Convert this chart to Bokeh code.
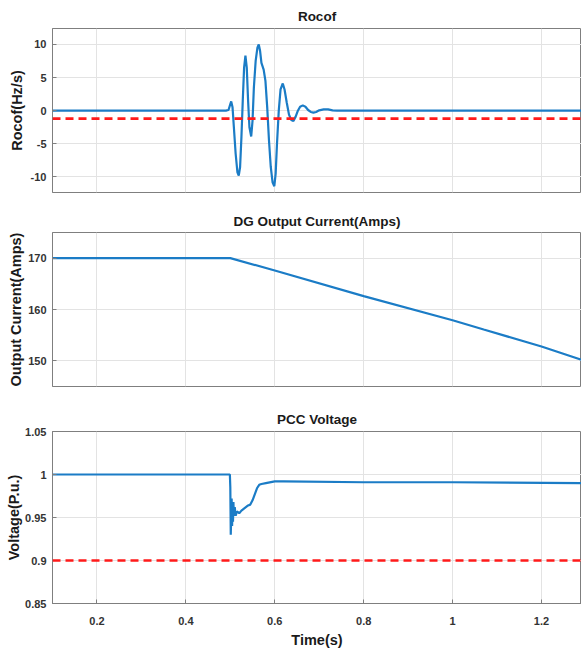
from bokeh.plotting import figure
from bokeh.layouts import column
from bokeh.models import FixedTicker, Range1d, Span, NumeralTickFormatter
from bokeh.embed import file_html
from bokeh.resources import INLINE

# ---------------- data ----------------
x_ticks = [0.2, 0.4, 0.6, 0.8, 1.0, 1.2]

t_rocof = [0.10, 0.30, 0.49, 0.496, 0.500, 0.502, 0.505, 0.508, 0.512, 0.516,
           0.519, 0.522, 0.525, 0.528, 0.531, 0.534, 0.537, 0.540, 0.543, 0.547,
           0.550, 0.553, 0.557, 0.561, 0.564, 0.567, 0.570, 0.575, 0.579, 0.583,
           0.587, 0.591, 0.595, 0.599, 0.602, 0.605, 0.609, 0.613, 0.618, 0.622,
           0.627, 0.632, 0.637, 0.642, 0.647, 0.652, 0.657, 0.663, 0.669, 0.675,
           0.681, 0.687, 0.693, 0.700, 0.710, 0.720, 0.730, 0.740, 1.00, 1.29]
rocof = [0.0, 0.0, 0.0, 0.1, 1.0, 1.4, 0.5, -2.5, -6.5, -9.3,
         -9.8, -8.5, -4.0, 1.5, 6.5, 8.3, 6.5, 1.5, -2.5, -3.9,
         -1.5, 3.5, 7.5, 9.5, 10.0, 9.0, 7.2, 6.2, 4.5, 0.5,
         -4.5, -8.5, -10.8, -11.4, -9.5, -5.0, 0.0, 3.2, 4.1, 3.2,
         1.2, -0.6, -1.4, -1.55, -0.9, 0.0, 0.6, 0.8, 0.6, 0.1,
         -0.2, -0.3, -0.2, 0.05, 0.2, 0.2, 0.05, 0.0, 0.0, 0.0]
rocof_threshold = -1.2
rocof_ticks = [-10, -5, 0, 5, 10]

t_current = [0.10, 0.50, 0.60, 0.80, 1.00, 1.07, 1.20, 1.29]
current = [170.0, 170.0, 167.6, 162.6, 157.9, 156.1, 152.8, 150.2]
current_ticks = [150, 160, 170]

t_voltage = [0.10, 0.499, 0.500, 0.501, 0.502, 0.503, 0.504, 0.505, 0.506, 0.507,
             0.508, 0.510, 0.512, 0.515, 0.520, 0.525, 0.530, 0.535, 0.540, 0.545,
             0.550, 0.555, 0.560, 0.565, 0.570, 0.580, 0.600, 0.620, 0.800, 1.000, 1.29]
voltage = [1.0, 1.0, 0.985, 0.93, 0.95, 0.972, 0.94, 0.965, 0.945, 0.968,
           0.952, 0.962, 0.952, 0.957, 0.955, 0.958, 0.960, 0.962, 0.964, 0.965,
           0.970, 0.977, 0.984, 0.988, 0.989, 0.990, 0.992, 0.992, 0.991, 0.991, 0.990]
voltage_threshold = 0.9
voltage_ticks = [0.85, 0.9, 0.95, 1.0, 1.05]

# ---------------- style ----------------
FONT = "Liberation Sans"
BLUE = "#1b7cc6"
RED = "#ff1a1a"
X0, X1 = 0.1, 1.29


def make_fig(height, ylo, yhi, yticks, title, ylabel, top, bottom, show_x,
             title_standoff, ylabel_standoff):
    p = figure(width=581, height=height, output_backend="svg", toolbar_location=None,
               x_range=Range1d(X0, X1), y_range=Range1d(ylo, yhi),
               min_border_left=52, min_border_right=0, min_border_top=top,
               min_border_bottom=bottom)
    p.title.text = title
    p.title.align = "center"
    p.title.text_font = FONT
    p.title.text_font_size = "13.5px"
    p.title.text_font_style = "bold"
    p.title.text_color = "#1a1a1a"
    p.title.standoff = title_standoff
    p.outline_line_color = "#7f7f7f"
    p.outline_line_width = 1
    p.background_fill_color = "white"
    p.border_fill_color = "white"

    for ax in (p.xaxis[0], p.yaxis[0]):
        ax.axis_line_color = "#7f7f7f"
        ax.major_tick_line_color = "#7f7f7f"
        ax.major_tick_in = 4
        ax.major_tick_out = 0
        ax.minor_tick_line_color = None
        ax.major_label_text_font = FONT
        ax.major_label_text_font_style = "bold"
        ax.major_label_text_font_size = "11px"
        ax.major_label_text_color = "#333333"
        ax.axis_label_text_font = FONT
        ax.axis_label_text_font_style = "bold"
        ax.axis_label_text_font_size = "14.5px"
        ax.axis_label_text_color = "#1a1a1a"

    p.xaxis.ticker = FixedTicker(ticks=x_ticks)
    p.xaxis.formatter = NumeralTickFormatter(format="0.[00]")
    p.yaxis.ticker = FixedTicker(ticks=yticks)
    p.yaxis.formatter = NumeralTickFormatter(format="0.[00]")
    p.yaxis.major_label_standoff = 6
    p.yaxis.axis_label = ylabel
    p.yaxis.axis_label_standoff = ylabel_standoff
    if show_x:
        p.xaxis.major_label_standoff = 13
        p.xaxis.axis_label = "Time(s)"
        p.xaxis.axis_label_standoff = 4
    else:
        p.xaxis.visible = False

    p.grid.grid_line_color = "#e3e3e3"
    p.grid.grid_line_width = 1
    p.xgrid.ticker = FixedTicker(ticks=x_ticks)
    p.ygrid.ticker = FixedTicker(ticks=yticks)
    return p


p1 = make_fig(200, -12.35, 12.4, rocof_ticks, "Rocof", "Rocof(Hz/s)", 28, 8, False, 10, 3)
p1.line(t_rocof, rocof, line_color=BLUE, line_width=2.2)
p1.add_layout(Span(location=rocof_threshold, dimension="width", line_color=RED,
                   line_width=2.6, line_dash="8 5"))

p2 = make_fig(200, 145, 175, current_ticks, "DG Output Current(Amps)",
              "Output Current(Amps)", 32, 14, False, 7, 1)
p2.line(t_current, current, line_color=BLUE, line_width=2.2)

p3 = make_fig(250, 0.85, 1.05, voltage_ticks, "PCC Voltage", "Voltage(P.u.)",
              31, 41, True, 9, 0)
p3.line(t_voltage, voltage, line_color=BLUE, line_width=2.2)
p3.add_layout(Span(location=voltage_threshold, dimension="width", line_color=RED,
                   line_width=2.6, line_dash="8 5"))

layout = column(p1, p2, p3, spacing=0)

open("out.html", "w").write(file_html(layout, INLINE))
